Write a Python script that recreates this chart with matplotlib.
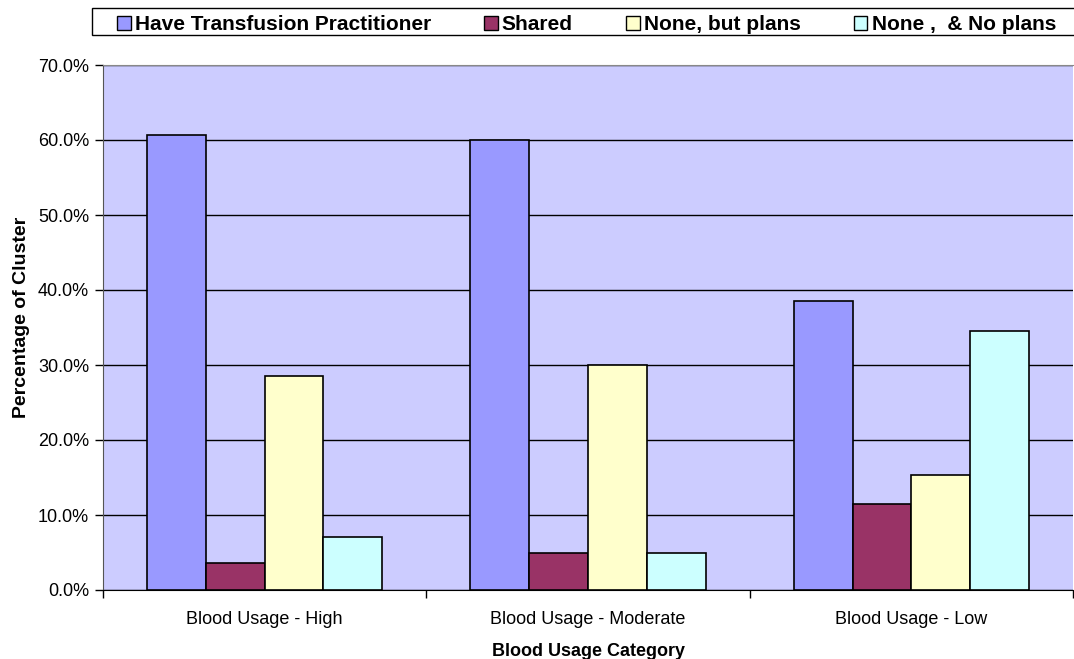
import numpy as np
import matplotlib
matplotlib.use("Agg")
import matplotlib.pyplot as plt
from matplotlib.patches import Rectangle
from matplotlib.ticker import PercentFormatter

plt.rcParams["font.family"] = ["Liberation Sans", "DejaVu Sans"]

categories = ["Blood Usage - High", "Blood Usage - Moderate", "Blood Usage - Low"]
series_names = [
    "Have Transfusion Practitioner",
    "Shared",
    "None, but plans",
    "None ,  & No plans",
]
have_tp = [60.7, 60.0, 38.5]
shared = [3.6, 5.0, 11.5]
none_plans = [28.6, 30.0, 15.4]
none_no_plans = [7.1, 5.0, 34.6]
colors = ["#9999FF", "#993366", "#FFFFCC", "#CCFFFF"]

W, H = 1074, 659
fig = plt.figure(figsize=(W / 100, H / 100), dpi=100)
ax = fig.add_axes([103 / W, 1 - 590 / H, 970 / W, 525 / H])
ax.set_facecolor("#CCCCFF")

x = np.arange(len(categories))
width = 1 / 5.5  # 4 bars plus a 150% gap per category
for i, (vals, name) in enumerate(zip([have_tp, shared, none_plans, none_no_plans], series_names)):
    ax.bar(x + (i - 1.5) * width, vals, width, color=colors[i], edgecolor="black",
           linewidth=1.2, label=name, zorder=3)

ax.set_xlim(-0.5, 2.5)
ax.set_ylim(0, 70)
ax.set_yticks(np.arange(0, 71, 10))
ax.yaxis.set_major_formatter(PercentFormatter(decimals=1))
ax.grid(axis="y", color="black", linewidth=1, zorder=1)
ax.set_axisbelow(True)

ax.set_xticks(x)
ax.set_xticklabels(categories, fontsize=13)
ax.set_xticks([-0.5, 0.5, 1.5, 2.5], minor=True)
ax.tick_params(axis="x", which="major", length=0, pad=15)
ax.tick_params(axis="x", which="minor", length=6, width=1, direction="out")
ax.tick_params(axis="y", labelsize=13, length=6, width=1, direction="out", pad=4)

ax.spines["bottom"].set_color("black")
ax.spines["left"].set_color("#555555")
ax.spines["top"].set_color("#888888")
ax.spines["right"].set_visible(False)

ax.set_xlabel("Blood Usage Category", fontsize=13, fontweight="bold", labelpad=11)
ax.set_ylabel("Percentage of Cluster", fontsize=14, fontweight="bold", labelpad=6)
ax.yaxis.label.set_y(0.52)

# legend box sits at the top, entries spread across it
fig.patches.append(Rectangle((92 / W, 1 - 35 / H), 990 / W, 27 / H, transform=fig.transFigure,
                             facecolor="white", edgecolor="black", linewidth=1, zorder=0))
leg = fig.legend(loc="center left", ncol=4, mode="expand",
                 bbox_to_anchor=(117 / W, 1 - 38 / H, 939 / W, 27 / H),
                 borderaxespad=0, frameon=False,
                 handlelength=0.65, handleheight=0.65, handletextpad=0.2,
                 borderpad=0, prop={"weight": "bold", "size": 15})
for h in leg.legend_handles:
    h.set_linewidth(1)

fig.savefig("out.png", dpi=100)
